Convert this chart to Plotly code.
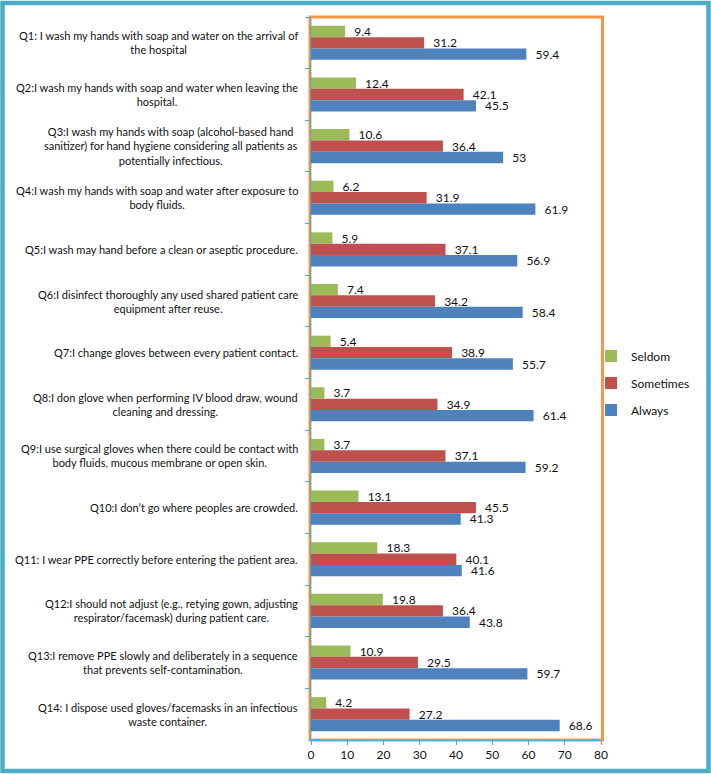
import plotly.graph_objects as go

categories = ["Q1", "Q2", "Q3", "Q4", "Q5", "Q6", "Q7", "Q8", "Q9", "Q10", "Q11", "Q12", "Q13", "Q14"]
labels = [
    "Q1: I wash my hands with soap and water on the arrival of<br>the hospital",
    "Q2:I wash my hands with soap and water when leaving the<br>hospital.",
    "Q3:I wash my hands with soap (alcohol-based hand<br>sanitizer) for hand hygiene considering all patients as<br>potentially infectious.",
    "Q4:I wash my hands with soap and water after exposure to<br>body fluids.",
    "Q5:I wash may hand before a clean or aseptic procedure.",
    "Q6:I disinfect thoroughly any used shared patient care<br>equipment after reuse.",
    "Q7:I change gloves between every patient contact.",
    "Q8:I don glove when performing IV blood draw, wound<br>cleaning and dressing.",
    "Q9:I use surgical gloves when there could be contact with<br>body fluids, mucous membrane or open skin.",
    "Q10:I don\u2019t go where peoples are crowded.",
    "Q11: I wear PPE correctly before entering the patient area.",
    "Q12:I should not adjust (e.g., retying gown, adjusting<br>respirator/facemask) during patient care.",
    "Q13:I remove PPE slowly and deliberately in a sequence<br>that prevents self-contamination.",
    "Q14: I dispose used gloves/facemasks in an infectious<br>waste container.",
]
seldom = [9.4, 12.4, 10.6, 6.2, 5.9, 7.4, 5.4, 3.7, 3.7, 13.1, 18.3, 19.8, 10.9, 4.2]
sometimes = [31.2, 42.1, 36.4, 31.9, 37.1, 34.2, 38.9, 34.9, 37.1, 45.5, 40.1, 36.4, 29.5, 27.2]
always = [59.4, 45.5, 53, 61.9, 56.9, 58.4, 55.7, 61.4, 59.2, 41.3, 41.6, 43.8, 59.7, 68.6]
x_ticks = [0, 10, 20, 30, 40, 50, 60, 70, 80]

FONT = "Lato, 'Open Sans', sans-serif"
series = [("Seldom", seldom, "#9BBB59"), ("Sometimes", sometimes, "#C0504D"), ("Always", always, "#4F81BD")]

fig = go.Figure()
for name, vals, color in series:
    fig.add_trace(go.Bar(
        y=categories, x=vals, name=name, orientation="h",
        marker=dict(color=color, line=dict(width=0)),
        text=[str(v) for v in vals], texttemplate="\u00a0\u00a0%{text}",
        textposition="outside", constraintext="none",
        textfont=dict(size=12, color="#111", family=FONT),
        cliponaxis=False, legendgroup=name,
    ))

W, H = 711, 774
L, R, T, B = 311, 110, 17, 34
pw, ph = W - L - R, H - T - B

def px(xp):
    return (xp - L) / pw

def py(yp):
    return (H - B - yp) / ph

annotations = []
for c, lab in zip(categories, labels):
    annotations.append(dict(
        x=px(300), xref="paper", y=c, yref="y", text=lab, showarrow=False,
        xanchor="right", yanchor="middle", align="center",
        font=dict(size=11, color="#111", family=FONT),
    ))

shapes = [
    dict(type="rect", xref="paper", yref="paper", x0=px(2.5), x1=px(708.5), y0=py(771), y1=py(3),
         line=dict(color="#4BACC6", width=4.5), layer="below"),
    dict(type="rect", xref="paper", yref="paper", x0=px(310), x1=px(602.5), y0=py(740), y1=py(17),
         line=dict(color="#F79646", width=3), layer="below"),
]

fig.update_layout(
    width=W, height=H,
    margin=dict(l=L, r=R, t=T, b=B, autoexpand=False),
    paper_bgcolor="white", plot_bgcolor="white",
    barmode="group", bargap=0.34, bargroupgap=0,
    font=dict(family=FONT, size=12, color="#111"),
    showlegend=True,
    legend=dict(x=px(591), y=py(383), xanchor="left", yanchor="middle",
                font=dict(size=12, color="#111", family=FONT),
                traceorder="grouped", tracegroupgap=8, itemwidth=30,
                bgcolor="rgba(0,0,0,0)"),
    annotations=annotations,
    shapes=shapes,
)
fig.update_yaxes(
    autorange="reversed", showticklabels=False, ticks="outside", ticklen=5,
    tickson="boundaries", tickcolor="#4BACC6", showline=True, linecolor="#4BACC6",
    linewidth=1, showgrid=False, zeroline=False, automargin=False,
)
fig.update_xaxes(
    range=[0, 80], tickvals=x_ticks, ticks="outside", ticklen=4, tickcolor="#4BACC6",
    showline=True, linecolor="#4BACC6", linewidth=1, showgrid=False, zeroline=False,
    tickfont=dict(size=12, color="#111", family=FONT), automargin=False,
)

fig.write_html(
    "out.html",
    config={"displayModeBar": False},
    post_script="document.body.style.margin='0';document.body.style.overflow='hidden';",
)
